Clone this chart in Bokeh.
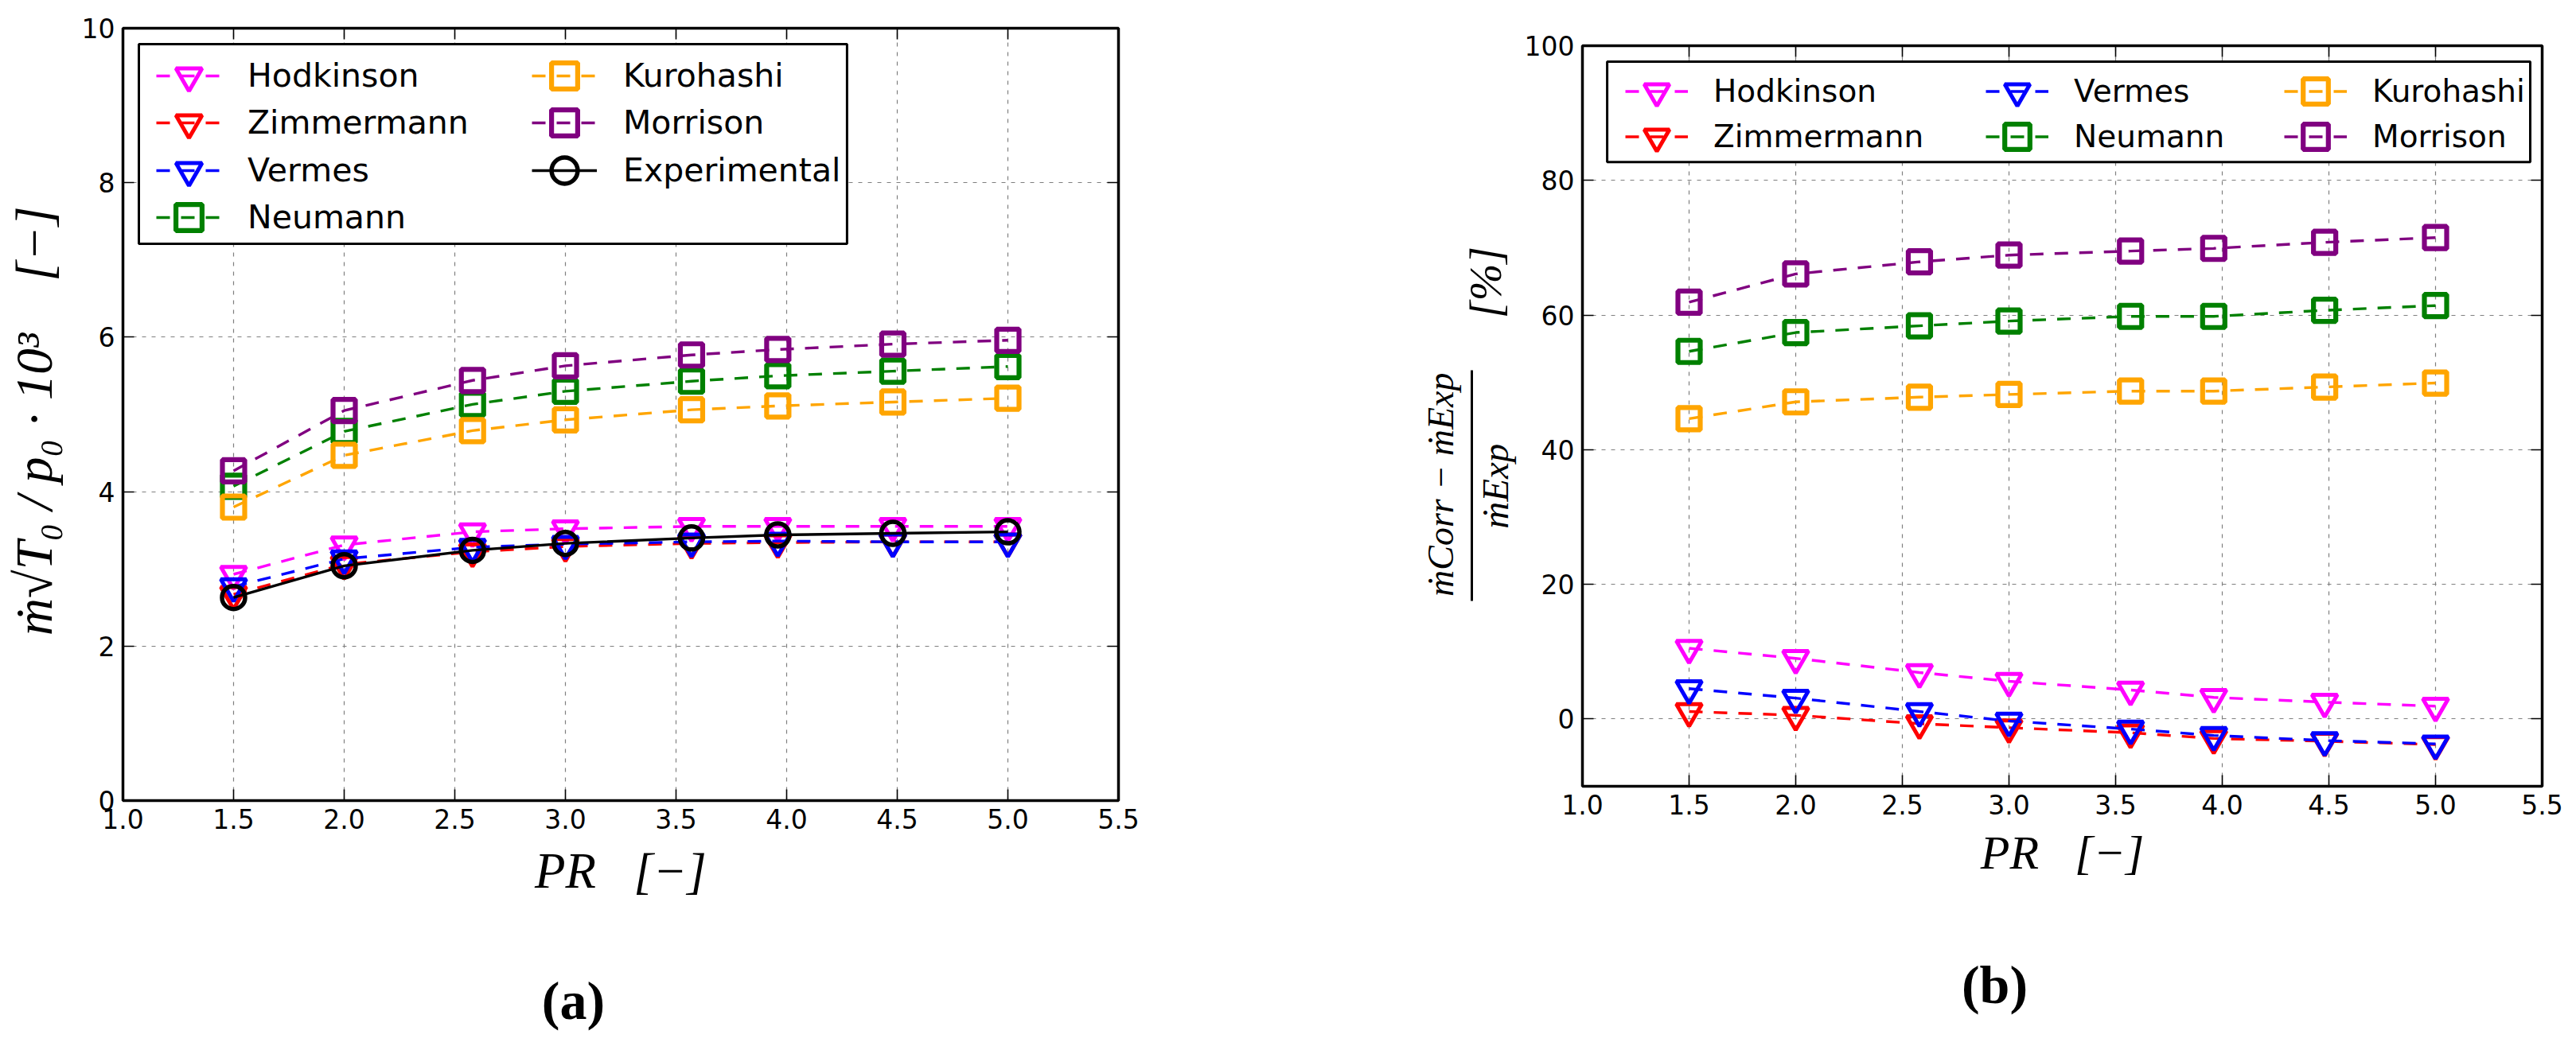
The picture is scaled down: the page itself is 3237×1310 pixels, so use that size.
from bokeh.plotting import figure
from bokeh.models import (Range1d, LinearAxis, FixedTicker, Grid, Legend, LegendItem,
                          BasicTickFormatter, Spacer, BoxAnnotation)
from bokeh.layouts import row, column
from bokeh.embed import file_html
from bokeh.resources import INLINE

# ---------------- data ----------------
pr = [1.5, 2.0, 2.58, 3.0, 3.57, 3.96, 4.48, 5.0]

# panel (a): corrected mass flow  m*sqrt(T0)/p0*1e3
flow_hodkinson = [2.93, 3.31, 3.48, 3.52, 3.55, 3.55, 3.55, 3.55]
flow_zimmermann = [2.67, 3.06, 3.22, 3.29, 3.33, 3.34, 3.35, 3.35]
flow_vermes = [2.77, 3.13, 3.28, 3.32, 3.35, 3.36, 3.35, 3.35]
flow_neumann = [4.07, 4.78, 5.13, 5.30, 5.43, 5.50, 5.56, 5.62]
flow_kurohashi = [3.80, 4.47, 4.79, 4.93, 5.06, 5.11, 5.16, 5.21]
flow_morrison = [4.27, 5.05, 5.44, 5.63, 5.77, 5.84, 5.91, 5.96]
flow_experimental = [2.63, 3.04, 3.24, 3.33, 3.40, 3.44, 3.46, 3.48]

# panel (b): relative deviation [%]
err_hodkinson = [10.5, 9.0, 6.9, 5.6, 4.3, 3.2, 2.5, 1.9]
err_zimmermann = [1.1, 0.55, -0.7, -1.3, -2.05, -2.9, -3.3, -3.8]
err_vermes = [4.5, 3.1, 1.1, -0.3, -1.5, -2.45, -3.2, -3.7]
err_neumann = [54.6, 57.4, 58.4, 59.1, 59.8, 59.8, 60.7, 61.4]
err_kurohashi = [44.6, 47.1, 47.8, 48.2, 48.7, 48.7, 49.3, 49.9]
err_morrison = [61.9, 66.1, 67.9, 68.9, 69.5, 69.9, 70.8, 71.5]

x_ticks = [1.0, 1.5, 2.0, 2.5, 3.0, 3.5, 4.0, 4.5, 5.0, 5.5]
x_tick_labels = ["1.0", "1.5", "2.0", "2.5", "3.0", "3.5", "4.0", "4.5", "5.0", "5.5"]
a_y_ticks = [0, 2, 4, 6, 8, 10]
a_y_tick_labels = ["0", "2", "4", "6", "8", "10"]
b_y_ticks = [0, 20, 40, 60, 80, 100]
b_y_tick_labels = ["0", "20", "40", "60", "80", "100"]

TICK_FONT = "DejaVu Sans"
MATH_FONT = "Liberation Serif"
NB = "\u00a0"

STYLE = {
    "Hodkinson": ("#ff00ff", "inverted_triangle"),
    "Zimmermann": ("#ff0000", "inverted_triangle"),
    "Vermes": ("#0000ff", "inverted_triangle"),
    "Neumann": ("#008000", "square"),
    "Kurohashi": ("#ffa500", "square"),
    "Morrison": ("#800080", "square"),
    "Experimental": ("#000000", "circle"),
}
MSIZE = {"inverted_triangle": (32, 5.0), "square": (28, 6.2), "circle": (29, 5.5)}


def bare_axis(**kw):
    """Axis used only for its line or its label (no ticks, no tick labels)."""
    ax = LinearAxis(ticker=FixedTicker(ticks=[]), major_tick_in=0, major_tick_out=0,
                    minor_tick_in=0, minor_tick_out=0, major_label_standoff=0,
                    major_label_text_color=None, axis_line_color=None,
                    axis_label_text_color="black", axis_label_text_font=MATH_FONT)
    for k, v in kw.items():
        setattr(ax, k, v)
    return ax


def make_panel(fw, fh, bl, br, bb, yr, yticks, ylabels, tick_px):
    p = figure(frame_width=fw, frame_height=fh, x_range=Range1d(1.0, 5.5),
               y_range=Range1d(*yr), min_border_left=bl, min_border_right=br,
               min_border_top=20, min_border_bottom=bb, output_backend="svg",
               toolbar_location=None, x_axis_type=None, y_axis_type=None)
    p.background_fill_color = "white"
    p.border_fill_color = "white"
    p.outline_line_color = "black"
    p.outline_line_width = 3.5
    xt = FixedTicker(ticks=x_ticks)
    yt = FixedTicker(ticks=yticks)
    for dim, tk in ((0, xt), (1, yt)):
        p.add_layout(Grid(dimension=dim, ticker=tk, grid_line_color="#7f7f7f",
                          grid_line_width=1.2, grid_line_dash="5 7"))
    specs = [("below", xt, dict(zip(x_ticks, x_tick_labels)), True, 1),
             ("above", xt, {}, False, 1),
             ("left", yt, dict(zip(yticks, ylabels)), True, 0),
             ("right", yt, {}, False, 0)]
    axes = {}
    for place, tk, ov, show, prec in specs:
        ax = LinearAxis(ticker=tk, axis_line_color=None, major_tick_in=14,
                        major_tick_out=0, minor_tick_in=0, minor_tick_out=0,
                        major_tick_line_color="black", major_tick_line_width=1.6,
                        formatter=BasicTickFormatter(precision=prec))
        if show:
            ax.major_label_overrides = ov
            ax.major_label_text_font = TICK_FONT
            ax.major_label_text_font_size = f"{tick_px}px"
            ax.major_label_text_color = "black"
            ax.major_label_standoff = 10
        else:
            ax.major_label_text_color = None
            ax.major_label_standoff = 0
        p.add_layout(ax, place)
        axes[place] = ax
    return p, axes


def draw(p, x, series):
    items = {}
    for name, vals in series:
        color, marker = STYLE[name]
        dash = "solid" if name == "Experimental" else "17 14"
        rl = p.line(x, vals, line_color=color, line_width=3.4, line_dash=dash)
        s, lw = MSIZE[marker]
        rm = p.scatter(x, vals, marker=marker, size=s, line_color=color,
                       line_width=lw, fill_color=None)
        items[name] = LegendItem(label=name, renderers=[rl, rm])
    return items


def legend_box(p, left, right, bottom, top):
    # white, black-bordered frame that holds the legend entries
    p.add_layout(BoxAnnotation(left=left, right=right, bottom=bottom, top=top,
                               fill_color="white", fill_alpha=1.0,
                               line_color="black", line_width=3, line_alpha=1.0))


def legend_rows(p, items, rows, g, standoff, font_px):
    # one borderless legend per entry so that rows can be spaced like the original
    for name, x, y in rows:
        p.add_layout(Legend(items=[items[name]], location=(x, y),
                            orientation="vertical", padding=0, spacing=0, margin=0,
                            glyph_width=g, glyph_height=g, label_height=g,
                            label_standoff=standoff,
                            label_text_font=TICK_FONT,
                            label_text_font_size=f"{font_px}px",
                            label_text_color="black", border_line_color=None,
                            background_fill_alpha=0.0))


def style_label(ax, text, px, italic=True, standoff=14):
    ax.axis_label = text
    ax.axis_label_text_font = MATH_FONT
    ax.axis_label_text_font_style = "italic" if italic else "normal"
    ax.axis_label_text_color = "black"
    ax.axis_label_text_font_size = f"{px}px"
    ax.axis_label_standoff = standoff


# ---------------- panel (a) ----------------
pa, axa = make_panel(1251, 971, 154, 207, 288, (0, 10), a_y_ticks, a_y_tick_labels, 33)
items_a = draw(pa, pr, [("Hodkinson", flow_hodkinson), ("Zimmermann", flow_zimmermann),
                        ("Vermes", flow_vermes), ("Neumann", flow_neumann),
                        ("Kurohashi", flow_kurohashi), ("Morrison", flow_morrison),
                        ("Experimental", flow_experimental)])
legend_box(pa, 1.072, 4.273, 7.209, 9.794)
legend_rows(pa, items_a, [("Hodkinson", 42, 870), ("Zimmermann", 42, 811),
                          ("Vermes", 42, 751), ("Neumann", 42, 692),
                          ("Kurohashi", 514, 870), ("Morrison", 514, 811),
                          ("Experimental", 514, 751)], 82, 33, 41)

style_label(axa["left"], "ṁ√T₀ / p₀ · 10³" + NB * 4 + "[−]" + NB, 65, standoff=21)
style_label(axa["below"], "PR" + NB * 3 + "[−]", 63, standoff=15)
cap_a = bare_axis(axis_label="(a)" + NB * 7, axis_label_text_font_size="68px",
                  axis_label_text_font_style="bold", axis_label_standoff=87)
pa.add_layout(cap_a, "below")

# ---------------- panel (b) ----------------
pb, axb = make_panel(1206, 931, 376, 27, 306, (-10, 100), b_y_ticks, b_y_tick_labels, 33)
items_b = draw(pb, pr, [("Hodkinson", err_hodkinson), ("Zimmermann", err_zimmermann),
                        ("Vermes", err_vermes), ("Neumann", err_neumann),
                        ("Kurohashi", err_kurohashi), ("Morrison", err_morrison)])
legend_box(pb, 1.116, 5.444, 82.72, 97.63)
legend_rows(pb, items_b, [("Hodkinson", 54, 834), ("Zimmermann", 54, 777),
                          ("Vermes", 507, 834), ("Neumann", 507, 777),
                          ("Kurohashi", 882, 834), ("Morrison", 882, 777)], 79, 32, 39)

style_label(axb["below"], "PR" + NB * 3 + "[−]", 60, standoff=12)
cap_b = bare_axis(axis_label="(b)" + NB * 10, axis_label_text_font_size="68px",
                  axis_label_text_font_style="bold", axis_label_standoff=92)
pb.add_layout(cap_b, "below")

# y label of (b): fraction (ṁCorr − ṁExp)/ṁExp and [%]
style_label(axb["left"], "ṁExp" + NB * 15, 47, standoff=8)
frac_bar = bare_axis(bounds=(17.5, 51.8), axis_line_color="black", axis_line_width=3)
pb.add_layout(frac_bar, "left")
numer = bare_axis(axis_label="ṁCorr − ṁExp" + NB * 15, axis_label_text_font_size="46px",
                  axis_label_text_font_style="italic", axis_label_standoff=14)
pb.add_layout(numer, "left")
pct = bare_axis(axis_label=NB * 24 + "[%]", axis_label_text_font_size="56px",
                axis_label_standoff=-116)
pb.add_layout(pct, "left")

layout = row(column(Spacer(width=1612, height=15), pa),
             column(Spacer(width=1609, height=37), pb))
open("out.html", "w").write(file_html(layout, INLINE))
